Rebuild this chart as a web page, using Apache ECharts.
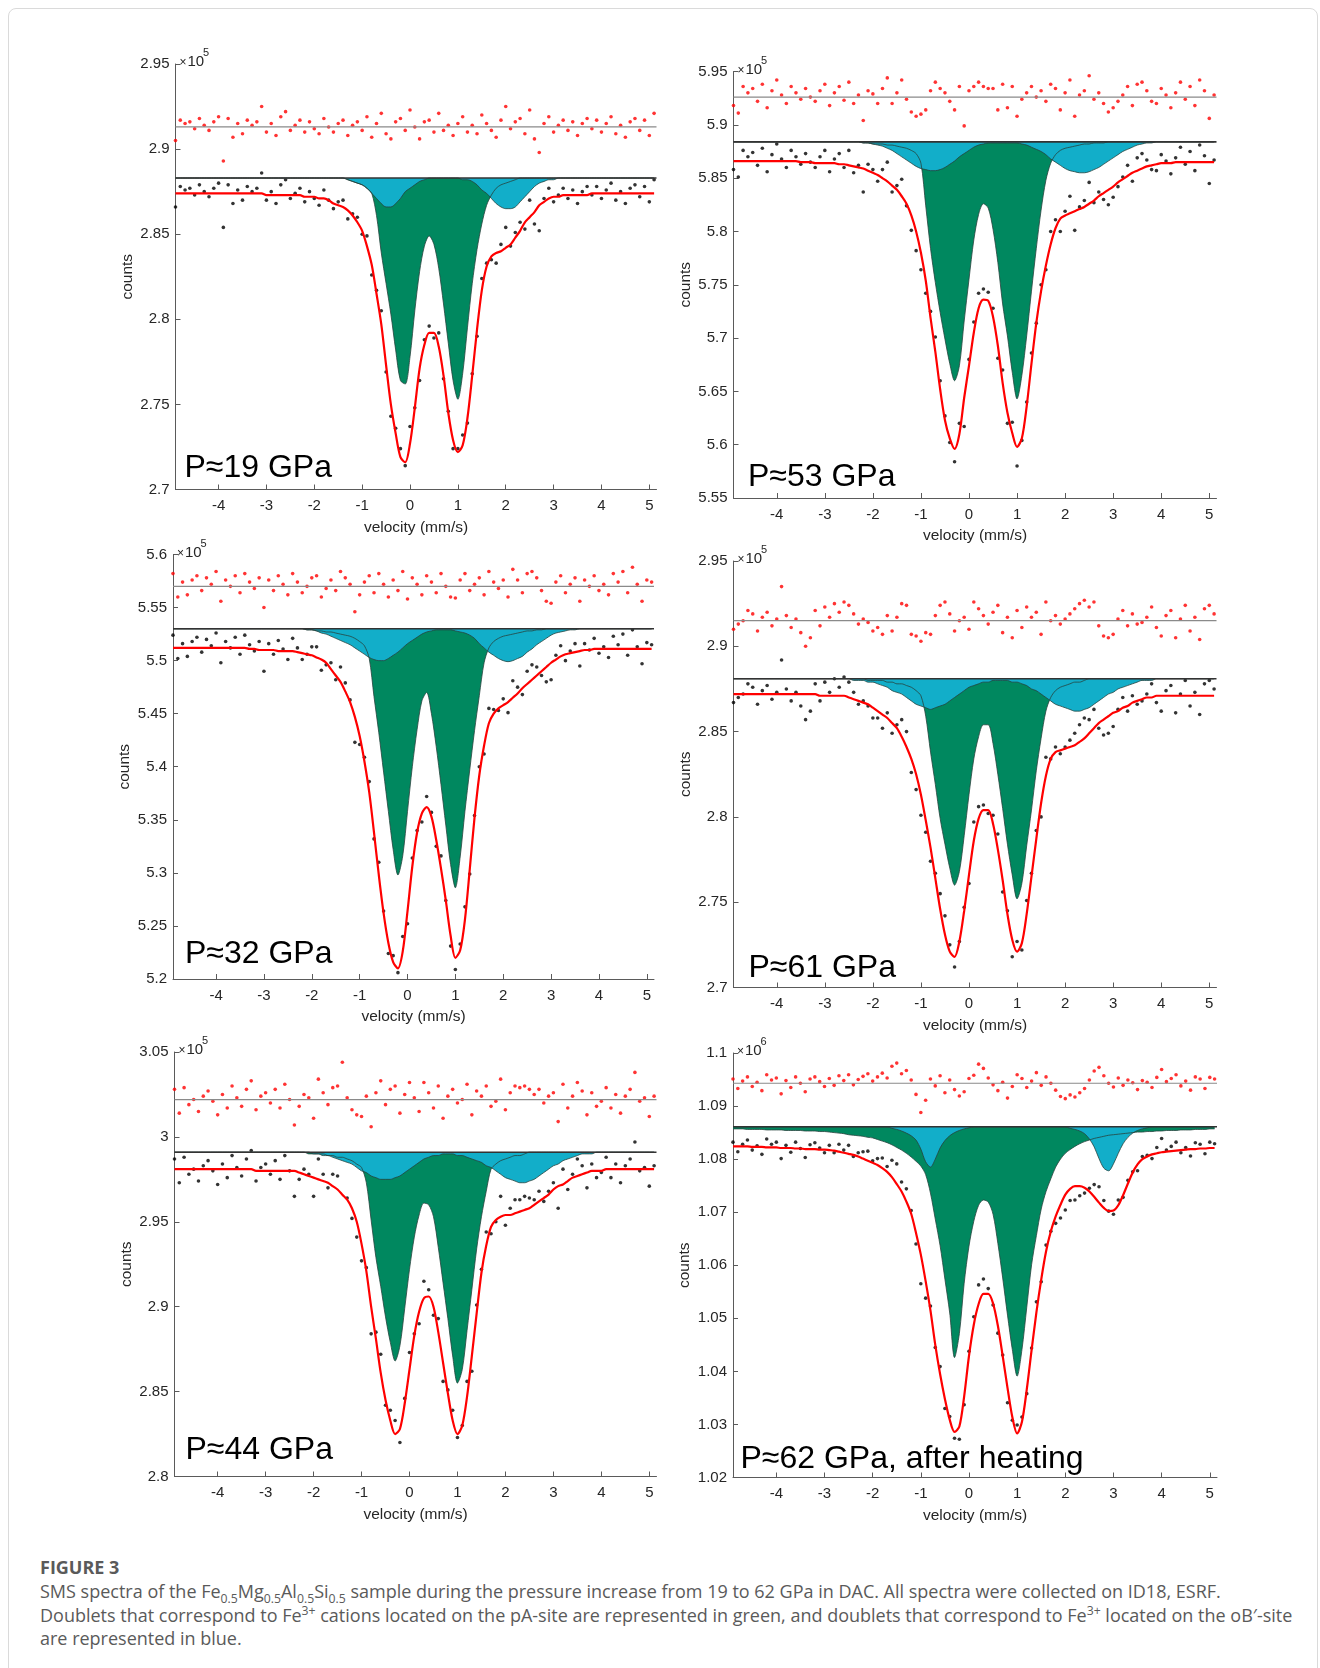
<!DOCTYPE html>
<html>
<head>
<meta charset="utf-8">
<title>SMS spectra</title>
<script src="https://cdn.jsdelivr.net/npm/echarts@6.0.0/dist/echarts.min.js"></script>
<style>
  html, body { margin: 0; padding: 0; background: #fff; width: 1320px; height: 1668px; overflow: hidden; }
  #frame { position: absolute; left: 8px; top: 8px; width: 1308px; height: 1700px; border: 1px solid #dadada; border-radius: 8px; }
  #chart { position: absolute; left: 0; top: 0; width: 1320px; height: 1545px; }
  #caption { position: absolute; left: 40px; top: 1554px; color: #5a5a5a; font-family: "Open Sans", Lato, sans-serif; white-space: nowrap; }
  #caption .fig { font-size: 18px; font-weight: 700; line-height: 26px; }
  #caption .txt { font-size: 18px; line-height: 23.5px; }
  #caption sub, #caption sup { font-size: 0.68em; line-height: 0; }
</style>
</head>
<body>
<div id="frame"></div>
<div id="chart"></div>
<div id="caption">
  <div class="fig">FIGURE 3</div>
  <div class="txt">SMS spectra of the Fe<sub>0.5</sub>Mg<sub>0.5</sub>Al<sub>0.5</sub>Si<sub>0.5</sub> sample during the pressure increase from 19 to 62 GPa in DAC. All spectra were collected on ID18, ESRF.<br>Doublets that correspond to Fe<sup>3+</sup> cations located on the pA-site are represented in green, and doublets that correspond to Fe<sup>3+</sup> located on the oB′-site<br>are represented in blue.</div>
</div>
<script>
// velocity channels (mm/s), shared by all six spectra
var VEL = [
  -4.9,-4.8,-4.7,-4.6,-4.5,-4.4,-4.3,-4.2,-4.1,-4.0,
  -3.9,-3.8,-3.7,-3.6,-3.5,-3.4,-3.3,-3.2,-3.1,-3.0,
  -2.9,-2.8,-2.7,-2.6,-2.5,-2.4,-2.3,-2.2,-2.1,-2.0,
  -1.9,-1.8,-1.7,-1.6,-1.5,-1.4,-1.3,-1.2,-1.1,-1.0,
  -0.9,-0.8,-0.7,-0.6,-0.5,-0.4,-0.3,-0.2,-0.1,0.0,
  0.1,0.2,0.3,0.4,0.5,0.6,0.7,0.8,0.9,1.0,
  1.1,1.2,1.3,1.4,1.5,1.6,1.7,1.8,1.9,2.0,
  2.1,2.2,2.3,2.4,2.5,2.6,2.7,2.8,2.9,3.0,
  3.1,3.2,3.3,3.4,3.5,3.6,3.7,3.8,3.9,4.0,
  4.1,4.2,4.3,4.4,4.5,4.6,4.7,4.8,4.9,5.0,
  5.1];
var X_TICKS = [-4, -3, -2, -1, 0, 1, 2, 3, 4, 5];
var X_MIN = -4.9, X_MAX = 5.15;

// panel order: 19, 53, 32, 61, 44, 62 GPa (left-right, top-bottom)
var LABELS = ['P≈19 GPa', 'P≈53 GPa', 'P≈32 GPa', 'P≈61 GPa', 'P≈44 GPa', 'P≈62 GPa, after heating'];
var EXPONENTS = ['5', '5', '5', '5', '5', '6'];
var Y_MIN = [2.70, 5.55, 5.20, 2.70, 2.80, 1.02];
var Y_MAX = [2.95, 5.95, 5.60, 2.95, 3.05, 1.10];
var Y_STEP = [0.05, 0.05, 0.05, 0.05, 0.05, 0.01];
// all counts below in 1/1000 of the axis unit
var BASELINE = [2883, 5884, 5530, 2881, 2991, 1086.1];
var RES_LINE = [2913, 5926, 5570, 2915, 3022, 1094.3];

// ---- 19 GPa ----
var FIT_19 = [
  2874,2874,2874,2874,2874,2874,2874,2874,2874,2874,
  2874,2874,2874,2874,2874,2874,2874,2874,2874,2873,
  2873,2873,2873,2873,2873,2873,2873,2872,2872,2872,
  2871,2871,2870,2868,2867,2866,2864,2861,2857,2852,
  2843,2832,2815,2797,2773,2750,2733,2719,2716,2727,
  2748,2771,2785,2792,2792,2784,2767,2745,2729,2722,
  2726,2742,2767,2794,2817,2831,2837,2839,2840,2842,
  2844,2848,2852,2857,2860,2863,2867,2869,2871,2872,
  2872,2873,2873,2873,2873,2873,2873,2874,2874,2874,
  2874,2874,2874,2874,2874,2874,2874,2874,2874,2874,
  2874];
var RES_19 = [
  -8,4,2,3,-1,5,1,-2,3,6,
  -20,5,-6,2,-4,4,1,3,12,-3,
  2,-5,6,9,-2,1,4,-3,3,-1,
  -4,5,0,-3,2,4,-5,1,3,-2,
  6,-6,2,8,-4,-7,3,5,-2,10,
  0,-7,3,4,-3,8,-2,1,-5,2,
  6,-3,1,-4,7,2,-2,-6,4,12,
  -1,3,5,-4,10,-7,-15,2,6,-3,
  1,4,-2,3,-5,2,5,-1,4,-3,
  2,6,-4,1,-6,3,5,-2,4,-5,
  8];
var BLUE_19 = [
  0,0,0,0,0,0,0,0,0,0,
  0,0,0,0,0,0,0,0,0,0,
  0,0,0,0,0,0,0,0,0,0,
  0,0,0,0,0,0,1,2,3,4,
  6,9,12,15,17,17,15,12,8,6,
  4,2,1,0,0,0,0,0,0,0,
  1,1,2,4,7,9,12,15,17,18,
  18,17,14,11,8,5,3,2,1,1,
  0,0,0,0,0,0,0,0,0,0,
  0,0,0,0,0,0,0,0,0,0,
  0];
var GREEN_19 = [
  0,0,0,0,0,0,0,0,0,0,
  0,0,0,0,0,0,0,0,0,0,
  0,0,0,0,0,0,0,0,0,0,
  0,0,0,0,0,0,1,2,3,4,
  6,9,22,44,62,80,101,119,121,105,
  78,55,40,34,39,53,74,97,119,130,
  115,88,62,42,27,16,10,6,4,3,
  2,1,0,0,0,0,0,0,0,0,
  0,0,0,0,0,0,0,0,0,0,
  0,0,0,0,0,0,0,0,0,0,
  0];

// ---- 53 GPa ----
var FIT_53 = [
  5866,5866,5866,5866,5866,5866,5866,5866,5866,5866,
  5866,5866,5866,5866,5865,5865,5865,5864,5864,5864,
  5864,5864,5863,5863,5862,5861,5860,5859,5857,5855,
  5853,5850,5847,5843,5839,5833,5826,5815,5800,5780,
  5754,5719,5687,5652,5623,5606,5596,5610,5644,5674,
  5705,5728,5736,5735,5720,5693,5658,5630,5611,5598,
  5606,5636,5676,5714,5744,5768,5788,5803,5812,5815,
  5817,5819,5821,5823,5826,5829,5833,5836,5839,5842,
  5846,5849,5852,5855,5857,5859,5861,5862,5863,5864,
  5864,5864,5865,5865,5865,5865,5865,5865,5865,5865,
  5865];
var RES_53 = [
  -8,-15,10,4,8,-4,12,-10,6,16,
  2,-6,10,4,-2,8,0,-4,6,12,
  -8,4,10,-3,14,-6,2,-22,6,3,
  -6,8,18,-6,4,16,-2,-14,-18,-16,
  -12,6,14,8,4,-4,-12,10,-27,6,
  10,14,10,8,8,-12,12,-10,10,-18,
  -2,4,10,0,6,-4,12,8,-12,4,
  16,-18,2,6,20,-2,4,-6,-14,-10,
  -4,2,10,-8,12,14,6,-4,-6,8,
  2,-10,4,14,-2,10,-8,16,6,-20,
  2];
var BLUE_53 = [
  0,0,0,0,0,0,0,0,0,0,
  0,0,0,0,0,0,0,0,0,0,
  0,0,0,0,0,0,0,1,1,2,
  3,4,6,8,11,14,17,20,23,25,
  26,27,27,26,24,21,18,14,11,8,
  5,3,2,1,1,1,1,1,1,1,
  2,3,5,7,9,12,16,19,22,25,
  27,28,29,29,28,26,24,21,18,15,
  12,9,7,5,3,2,1,1,0,0,
  0,0,0,0,0,0,0,0,0,0,
  0];
var GREEN_53 = [
  0,0,0,0,0,0,0,0,0,0,
  0,0,0,0,0,0,0,0,0,0,
  0,0,0,0,0,0,0,1,1,2,
  2,2,3,3,4,5,6,8,11,20,
  60,100,132,160,185,208,224,210,168,129,
  92,68,58,62,82,113,152,182,216,241,
  219,182,140,100,64,36,20,12,8,6,
  5,4,3,2,2,1,1,1,0,0,
  0,0,0,0,0,0,0,0,0,0,
  0,0,0,0,0,0,0,0,0,0,
  0];

// ---- 32 GPa ----
var FIT_32 = [
  5512,5512,5512,5512,5512,5512,5512,5512,5512,5512,
  5512,5512,5512,5512,5512,5512,5511,5511,5510,5510,
  5510,5510,5509,5509,5509,5509,5508,5507,5506,5505,
  5503,5501,5498,5492,5486,5480,5471,5461,5447,5429,
  5405,5376,5338,5298,5262,5234,5216,5210,5226,5264,
  5306,5338,5356,5362,5353,5331,5304,5274,5241,5220,
  5227,5256,5303,5352,5392,5420,5441,5450,5455,5458,
  5461,5465,5469,5474,5478,5482,5486,5490,5494,5498,
  5501,5504,5506,5507,5508,5509,5510,5510,5511,5511,
  5511,5511,5511,5511,5511,5511,5511,5511,5511,5511,
  5511];
var RES_32 = [
  12,-10,4,-8,6,10,-4,8,2,14,
  -14,6,0,10,-6,12,4,-2,8,-20,
  6,-4,10,2,-8,12,4,-6,0,8,
  10,-10,-2,6,-4,14,8,2,-24,-8,
  4,10,-6,12,2,-10,6,-4,14,-12,
  8,2,-8,10,4,-6,12,0,-10,-11,
  6,12,-4,2,8,-8,14,4,-2,6,
  -10,16,6,-6,12,14,8,-4,-14,-16,
  4,10,-6,2,8,-14,6,0,10,-4,
  2,-8,12,4,14,-6,18,2,-14,6,
  4];
var BLUE_32 = [
  0,0,0,0,0,0,0,0,0,0,
  0,0,0,0,0,0,0,0,0,0,
  0,0,0,0,0,0,0,0,1,1,
  2,4,5,7,9,11,13,15,18,21,
  24,27,29,30,30,28,25,22,18,14,
  11,8,5,3,2,1,1,1,1,2,
  3,4,6,9,14,18,22,25,28,30,
  31,30,28,26,22,19,15,12,9,6,
  4,3,2,1,1,0,0,0,0,0,
  0,0,0,0,0,0,0,0,0,0,
  0];
var GREEN_32 = [
  0,0,0,0,0,0,0,0,0,0,
  0,0,0,0,0,0,0,0,0,0,
  0,0,0,0,0,0,0,0,1,1,
  2,2,3,3,4,5,6,7,9,12,
  16,28,64,98,135,172,208,232,214,172,
  130,95,68,60,80,111,147,185,222,244,
  215,172,133,96,63,32,18,12,9,7,
  6,5,4,3,2,2,1,1,0,0,
  0,0,0,0,0,0,0,0,0,0,
  0,0,0,0,0,0,0,0,0,0,
  0];

// ---- 61 GPa ----
var FIT_61 = [
  2872,2872,2872,2872,2872,2872,2872,2872,2872,2872,
  2872,2872,2872,2872,2872,2872,2872,2872,2871,2871,
  2871,2871,2871,2871,2870,2869,2868,2867,2866,2864,
  2862,2860,2858,2855,2852,2847,2841,2834,2825,2813,
  2798,2782,2764,2746,2731,2721,2718,2727,2745,2766,
  2786,2799,2804,2804,2796,2781,2763,2743,2728,2721,
  2726,2743,2765,2787,2808,2824,2834,2838,2839,2840,
  2841,2842,2844,2846,2849,2852,2855,2857,2859,2861,
  2862,2864,2865,2867,2868,2869,2870,2870,2871,2871,
  2871,2871,2871,2871,2871,2871,2871,2871,2871,2871,
  2871];
var RES_61 = [
  -5,-2,0,6,4,-6,2,5,-3,1,
  20,3,-4,1,-7,-15,-10,6,-3,8,
  2,10,5,11,9,4,-2,1,-1,-6,
  -4,-8,3,-6,2,10,9,-8,-9,-12,
  -7,-8,3,9,11,4,-6,0,2,-5,
  11,7,3,-2,5,9,-7,2,-10,6,
  -4,8,2,5,-8,11,0,3,-2,1,
  4,7,10,12,8,11,-3,-9,-10,-8,
  1,6,-3,4,-2,-1,2,8,-4,-9,
  3,6,-10,1,9,-6,2,-11,7,9,
  4];
var BLUE_61 = [
  0,0,0,0,0,0,0,0,0,0,
  0,0,0,0,0,0,0,0,0,0,
  0,0,0,0,0,1,1,1,2,2,
  3,4,5,7,8,9,11,13,15,16,
  17,18,17,16,15,13,11,9,7,5,
  4,3,2,2,1,1,1,1,2,2,
  3,4,6,7,9,11,13,15,16,17,
  18,19,19,18,17,15,13,11,9,8,
  6,5,4,3,2,1,1,1,0,0,
  0,0,0,0,0,0,0,0,0,0,
  0];
var GREEN_61 = [
  0,0,0,0,0,0,0,0,0,0,
  0,0,0,0,0,0,0,0,0,0,
  0,0,0,0,0,0,0,0,1,1,
  1,1,2,2,3,3,4,5,7,10,
  22,43,62,82,97,111,121,113,92,68,
  47,34,27,27,38,56,76,97,115,129,
  120,98,77,54,35,19,11,7,5,4,
  3,2,2,1,0,0,0,0,0,0,
  0,0,0,0,0,0,0,0,0,0,
  0,0,0,0,0,0,0,0,0,0,
  0];

// ---- 44 GPa ----
var FIT_44 = [
  2981,2981,2981,2981,2981,2981,2981,2981,2981,2981,
  2981,2981,2981,2981,2981,2981,2981,2980,2980,2980,
  2980,2980,2980,2980,2980,2980,2979,2978,2977,2976,
  2975,2974,2973,2971,2969,2966,2963,2958,2950,2937,
  2921,2900,2881,2861,2845,2833,2825,2828,2843,2863,
  2883,2897,2905,2906,2900,2885,2867,2849,2833,2825,
  2830,2847,2871,2896,2920,2936,2947,2951,2953,2954,
  2954,2955,2956,2957,2958,2960,2962,2964,2966,2969,
  2971,2972,2974,2976,2977,2978,2979,2980,2980,2980,
  2981,2981,2981,2981,2981,2981,2981,2981,2981,2981,
  2981];
var RES_44 = [
  6,-8,7,-3,0,-7,2,5,-1,-9,
  3,-5,8,1,-4,6,11,-6,2,4,
  -2,6,-5,9,0,-15,-4,3,1,-11,
  12,4,-3,7,8,22,1,-6,-9,-10,
  2,-16,4,11,-3,6,8,-8,3,10,
  1,-7,10,4,-5,8,-11,2,6,-2,
  0,9,-9,5,2,8,-4,-1,12,-6,
  4,8,7,8,6,3,6,-2,2,4,
  -13,9,-5,2,10,5,-9,4,-4,-1,
  7,-5,3,-8,2,6,16,-1,1,-10,
  2];
var BLUE_44 = [
  0,0,0,0,0,0,0,0,0,0,
  0,0,0,0,0,0,0,0,0,0,
  0,0,0,0,0,0,0,0,0,1,
  1,2,2,3,4,5,6,7,9,11,
  12,14,15,16,16,16,15,14,12,10,
  8,6,4,3,2,2,1,1,1,2,
  2,3,4,5,6,8,9,11,13,15,
  16,17,18,18,17,16,14,12,10,8,
  7,5,4,3,2,1,1,1,0,0,
  0,0,0,0,0,0,0,0,0,0,
  0];
var GREEN_44 = [
  0,0,0,0,0,0,0,0,0,0,
  0,0,0,0,0,0,0,0,0,0,
  0,0,0,0,0,0,0,0,1,1,
  1,1,2,2,3,3,4,5,7,9,
  18,40,62,79,97,112,123,114,92,69,
  50,37,30,31,38,56,77,98,120,136,
  128,105,81,57,38,23,10,7,5,4,
  3,2,2,1,0,0,0,0,0,0,
  0,0,0,0,0,0,0,0,0,0,
  0,0,0,0,0,0,0,0,0,0,
  0];

// ---- 62 GPa, after heating (axis unit 10^6) ----
var FIT_62 = [
  1082.4,1082.4,1082.4,1082.4,1082.3,1082.3,1082.3,1082.2,1082.2,1082.2,
  1082.1,1082.1,1082.1,1082.0,1082.0,1081.9,1081.9,1081.9,1081.8,1081.8,
  1081.7,1081.6,1081.4,1081.2,1081.0,1080.8,1080.5,1080.1,1079.7,1079.3,
  1078.9,1078.3,1077.6,1076.6,1075.3,1073.9,1072.0,1069.7,1066.1,1062.0,
  1057.0,1051.5,1045.0,1039.5,1034.8,1030.9,1028.6,1029.6,1035.3,1042.9,
  1048.8,1052.7,1054.6,1054.6,1052.8,1048.6,1042.9,1036.9,1031.4,1028.3,
  1030.5,1036.6,1044.0,1051.1,1057.3,1062.6,1066.4,1069.2,1071.4,1073.3,
  1074.4,1074.9,1074.9,1074.6,1073.9,1072.9,1071.8,1070.8,1070.2,1070.3,
  1071.3,1073.2,1075.4,1077.5,1079.0,1080.0,1080.5,1080.9,1081.1,1081.3,
  1081.4,1081.5,1081.6,1081.7,1081.8,1081.9,1081.9,1082.0,1082.0,1082.1,
  1082.1];
var RES_62 = [
  0.8,-1.0,0.4,1.2,-0.6,0.2,-1.4,1.6,0.6,1.0,
  -2.0,0.5,-0.8,1.2,0.0,-1.6,0.8,1.2,0.3,-0.6,
  0.9,-0.4,1.4,0.5,1.6,-0.3,0.7,1.3,1.8,0.4,
  1.2,1.9,1.0,3.2,3.8,1.8,2.4,0.6,-2.1,-5.5,
  -3.2,0.8,-0.5,1.4,-1.8,0.6,-1.2,-2.4,-1.6,0.9,
  1.5,3.6,2.8,1.0,-0.3,-1.4,0.2,-2.8,-0.6,1.6,
  0.9,-0.8,0.4,2.0,-0.4,1.2,0.0,-1.3,-2.5,-2.9,
  -2.2,-2.6,-1.8,-1.0,0.6,2.3,3.0,1.4,0.0,-0.7,
  1.0,-0.4,0.6,0.1,-1.2,0.5,0.2,-0.8,1.1,2.6,
  0.3,0.9,1.6,-0.5,0.4,-1.3,1.2,0.8,-1.0,1.1,
  0.8];
var BLUE_62 = [
  0,0,0,0,0,0,0,0,0,0,
  0,0,0,0,0,0,0,0,0,0,
  0,0,0,0,0,0,0,0,0,0,
  0,0,0,0.3,0.5,0.8,1.2,1.7,2.5,4.2,
  6.6,7.6,6.1,4.0,2.6,1.7,1.1,0.7,0.4,0.2,
  0,0,0,0,0,0,0,0,0,0,
  0,0,0,0,0,0,0,0,0,0,
  0.3,0.5,0.8,1.3,2.3,3.8,6.0,7.8,8.3,7.0,
  5.0,3.2,2.0,1.2,0.7,0.4,0.2,0,0,0,
  0,0,0,0,0,0,0,0,0,0,
  0];
var GREEN_62 = [
  0.4,0.4,0.4,0.5,0.5,0.5,0.5,0.6,0.6,0.6,
  0.6,0.7,0.7,0.7,0.7,0.8,0.8,0.8,0.9,0.9,
  1.0,1.1,1.2,1.3,1.5,1.6,1.7,1.8,2.0,2.1,
  2.4,2.7,3.0,3.4,3.9,4.4,5.0,5.7,6.5,7.4,
  9.0,12.5,17.4,22.4,28.7,35.1,43.5,39.0,29.5,22.5,
  17.8,14.8,13.8,14.2,16.5,22.0,28.5,35.5,42.0,47.0,
  42.0,34.0,26.0,20.5,15.5,12.2,9.8,7.6,6.1,5.0,
  4.3,3.7,3.2,2.8,2.5,2.2,2.0,1.8,1.6,1.5,
  1.4,1.3,1.2,1.1,1.0,1.0,0.9,0.9,0.8,0.8,
  0.7,0.7,0.7,0.6,0.6,0.6,0.5,0.5,0.5,0.4,
  0.4];

var FITS = [FIT_19, FIT_53, FIT_32, FIT_61, FIT_44, FIT_62];
var RESIDS = [RES_19, RES_53, RES_32, RES_61, RES_44, RES_62];
var BLUES = [BLUE_19, BLUE_53, BLUE_32, BLUE_61, BLUE_44, BLUE_62];
var GREENS = [GREEN_19, GREEN_53, GREEN_32, GREEN_61, GREEN_44, GREEN_62];

// layout: plot boxes [left, top, width, height] and label offsets [dx, dy from bottom]
var BOX = [
  [175.5, 64, 481, 425.5],
  [733.5, 71.5, 483, 426.5],
  [173, 554.5, 481, 424.5],
  [733.5, 561, 483, 426.5],
  [174.5, 1052, 482, 424.5],
  [733, 1053, 484, 424.5]
];
var LABEL_POS = [[9, 21.5], [14.5, 21], [12, 24.5], [15, 19.5], [11, 26], [7.5, 18.5]];

var FONT = '"Liberation Sans", Arial, Helvetica, sans-serif';
var GREEN = '#00885f', BLUE = '#12aec9', EDGE = '#27423e';
var AXIS = '#5a5a5a', TXT = '#262626';

var chart = echarts.init(document.getElementById('chart'));
var grids = [], xAxes = [], yAxes = [], series = [], graphics = [];

function txt(x, y, s, size) {
  return {type: 'text', x: x, y: y, silent: true,
    style: {text: s, font: size + 'px ' + FONT, fill: TXT, textAlign: 'left', textVerticalAlign: 'middle'}};
}

for (var i = 0; i < 6; i++) {
  var b = BOX[i];
  var fit = FITS[i], res = RESIDS[i], blue = BLUES[i], green = GREENS[i];
  var base = BASELINE[i], rl = RES_LINE[i];

  grids.push({left: b[0], top: b[1], width: b[2], height: b[3]});
  xAxes.push({
    type: 'value', gridIndex: i, min: X_MIN, max: X_MAX,
    name: 'velocity (mm/s)', nameLocation: 'middle', nameGap: 30,
    nameTextStyle: {fontFamily: FONT, fontSize: 15.5, color: TXT},
    axisLine: {onZero: false, lineStyle: {color: AXIS, width: 1}},
    axisTick: {inside: true, length: 5, customValues: X_TICKS, lineStyle: {color: AXIS}},
    axisLabel: {customValues: X_TICKS, fontFamily: FONT, fontSize: 15, color: TXT, margin: 9},
    splitLine: {show: false}
  });
  yAxes.push({
    type: 'value', gridIndex: i, min: Y_MIN[i], max: Y_MAX[i], interval: Y_STEP[i],
    name: 'counts', nameLocation: 'middle', nameGap: 40,
    nameTextStyle: {fontFamily: FONT, fontSize: 15.5, color: TXT},
    axisLine: {show: true, onZero: false, lineStyle: {color: AXIS, width: 1}},
    axisTick: {show: true, inside: true, length: 5, lineStyle: {color: AXIS}},
    axisLabel: {fontFamily: FONT, fontSize: 15, color: TXT, margin: 6,
      formatter: function (v) { return String(+v.toFixed(3)); }},
    splitLine: {show: false}
  });

  var gData = [], bData = [], fData = [], dots = [], rdots = [];
  for (var k = 0; k < VEL.length; k++) {
    gData.push([VEL[k], (base - green[k]) / 1000]);
    bData.push([VEL[k], (base - blue[k]) / 1000]);
    fData.push([VEL[k], fit[k] / 1000]);
    dots.push([VEL[k], (fit[k] + res[k]) / 1000]);
    rdots.push([VEL[k], (rl + res[k]) / 1000]);
  }
  var ax = {xAxisIndex: i, yAxisIndex: i, silent: true, animation: false};
  series.push(Object.assign({type: 'line', data: gData, smooth: 0.3, symbol: 'none',
    lineStyle: {color: EDGE, width: 0.8}, areaStyle: {color: GREEN, opacity: 1, origin: base / 1000}}, ax));
  series.push(Object.assign({type: 'line', data: bData, smooth: 0.3, symbol: 'none',
    lineStyle: {color: EDGE, width: 0.8}, areaStyle: {color: BLUE, opacity: 1, origin: base / 1000}}, ax));
  series.push(Object.assign({type: 'line', data: [[X_MIN, base / 1000], [X_MAX, base / 1000]], symbol: 'none',
    lineStyle: {color: '#333', width: 1.6}}, ax));
  series.push(Object.assign({type: 'line', data: [[X_MIN, rl / 1000], [X_MAX, rl / 1000]], symbol: 'none',
    lineStyle: {color: '#8a8a8a', width: 1.2}}, ax));
  series.push(Object.assign({type: 'line', data: fData, smooth: 0.3, symbol: 'none',
    lineStyle: {color: '#ff0000', width: 2.2}}, ax));
  series.push(Object.assign({type: 'scatter', data: dots, symbolSize: 3.6,
    itemStyle: {color: '#000'}}, ax));
  series.push(Object.assign({type: 'scatter', data: rdots, symbolSize: 3.6,
    itemStyle: {color: '#ff0000'}}, ax));

  graphics.push({type: 'text', x: b[0] + LABEL_POS[i][0], y: b[1] + b[3] - LABEL_POS[i][1], silent: true,
    style: {text: LABELS[i], font: '32px ' + FONT, fill: '#000', textAlign: 'left', textVerticalAlign: 'middle'}});
  // "×10^n" multiplier above the y axis
  graphics.push(txt(b[0] + 4, b[1] - 1, '×', 12));
  graphics.push(txt(b[0] + 12, b[1] - 2, '10', 15));
  graphics.push(txt(b[0] + 27.5, b[1] - 11, EXPONENTS[i], 11));
}

chart.setOption({
  animation: false,
  grid: grids,
  xAxis: xAxes,
  yAxis: yAxes,
  series: series,
  graphic: graphics
});
</script>
</body>
</html>
